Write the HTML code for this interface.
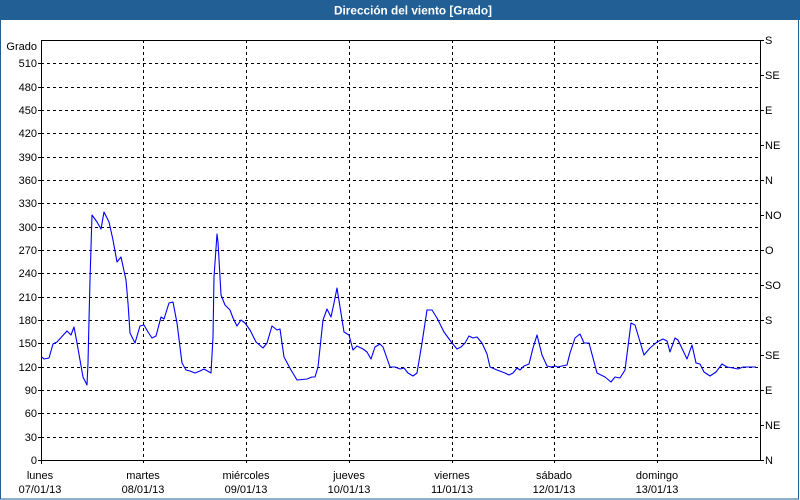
<!DOCTYPE html>
<html><head><meta charset="utf-8"><style>
html,body{margin:0;padding:0;background:#fff;}
svg{display:block;}
text{font-family:"Liberation Sans",Tahoma,sans-serif;font-size:11px;fill:#000;}
</style></head><body>
<svg width="800" height="500" viewBox="0 0 800 500" xmlns="http://www.w3.org/2000/svg">
<rect x="0" y="0" width="800" height="500" fill="#fff"/>
<rect x="0.5" y="0.5" width="798" height="498.5" fill="none" stroke="#215f95" stroke-width="1"/>
<rect x="0" y="0" width="800" height="20" fill="#215f95"/>
<text x="413" y="14.5" text-anchor="middle" style="font-weight:bold;font-size:12px;fill:#fff" textLength="158" lengthAdjust="spacingAndGlyphs">Dirección del viento [Grado]</text>

<g stroke="#000" stroke-width="1" stroke-dasharray="3,3" fill="none">
<path d="M41 437.5H760M41 413.5H760M41 390.5H760M41 367.5H760M41 343.5H760M41 320.5H760M41 297.5H760M41 273.5H760M41 250.5H760M41 227.5H760M41 203.5H760M41 180.5H760M41 157.5H760M41 133.5H760M41 110.5H760M41 87.5H760M41 63.5H760"/>
<path d="M143.5 40V463M246.5 40V463M349.5 40V463M452.5 40V463M554.5 40V463M657.5 40V463"/>
</g>
<g stroke="#000" stroke-width="1" fill="none">
<rect x="41.5" y="40.5" width="719" height="420"/>
<path d="M38 437.5H41M38 413.5H41M38 390.5H41M38 367.5H41M38 343.5H41M38 320.5H41M38 297.5H41M38 273.5H41M38 250.5H41M38 227.5H41M38 203.5H41M38 180.5H41M38 157.5H41M38 133.5H41M38 110.5H41M38 87.5H41M38 63.5H41M38 460.5H41"/>
<path d="M760 40.5H764M760 75.5H764M760 110.5H764M760 145.5H764M760 180.5H764M760 215.5H764M760 250.5H764M760 285.5H764M760 320.5H764M760 355.5H764M760 390.5H764M760 425.5H764M760 460.5H764"/>
<path d="M41.5 460V464"/>
</g>

<g text-anchor="end">
<text x="37" y="50">Grado</text>
<text x="37" y="67">510</text>
<text x="37" y="91">480</text>
<text x="37" y="114">450</text>
<text x="37" y="137">420</text>
<text x="37" y="161">390</text>
<text x="37" y="184">360</text>
<text x="37" y="207">330</text>
<text x="37" y="231">300</text>
<text x="37" y="254">270</text>
<text x="37" y="277">240</text>
<text x="37" y="301">210</text>
<text x="37" y="324">180</text>
<text x="37" y="347">150</text>
<text x="37" y="371">120</text>
<text x="37" y="394">90</text>
<text x="37" y="417">60</text>
<text x="37" y="441">30</text>
<text x="37" y="464">0</text>
</g>

<g>
<text x="765" y="44">S</text>
<text x="765" y="79">SE</text>
<text x="765" y="114">E</text>
<text x="765" y="149">NE</text>
<text x="765" y="184">N</text>
<text x="765" y="219">NO</text>
<text x="765" y="254">O</text>
<text x="765" y="289">SO</text>
<text x="765" y="324">S</text>
<text x="765" y="359">SE</text>
<text x="765" y="394">E</text>
<text x="765" y="429">NE</text>
<text x="765" y="464">N</text>
</g>

<g text-anchor="middle">
<text x="40" y="479">lunes</text><text x="40" y="493">07/01/13</text>
<text x="143" y="479">martes</text><text x="143" y="493">08/01/13</text>
<text x="246" y="479">miércoles</text><text x="246" y="493">09/01/13</text>
<text x="349" y="479">jueves</text><text x="349" y="493">10/01/13</text>
<text x="452" y="479">viernes</text><text x="452" y="493">11/01/13</text>
<text x="554" y="479">sábado</text><text x="554" y="493">12/01/13</text>
<text x="657" y="479">domingo</text><text x="657" y="493">13/01/13</text>
</g>

<polyline fill="none" stroke="#0000ff" stroke-width="1.1" stroke-linejoin="round" points="
42,357 44,359 49,358 53,344 57,342 67,331 71,335 74,327 77,343 83,377 87,385 88,363 89,320 90,280 92,215 97,222 101,229 104,212 109,222 113,240 117,262 121,257 126,280 128,303 130,333 135,343 140,326 144,325 148,332 152,338 156,336 161,317 164,319 169,303 173,302 177,323 182,363 186,370 190,371 195,373 200,371 204,369 211,373 213,337 214,277 217,234 218,242 220,277 221,295 225,305 230,310 233,318 237,326 241,320 245,323 250,330 256,342 263,348 267,343 272,326 277,330 280,329 284,357 291,370 297,380 307,379 312,377 315,377 318,367 323,320 327,309 331,317 334,303 337,288 340,307 344,332 349,335 353,350 357,346 363,349 367,352 371,359 375,347 380,344 383,347 390,367 395,367 400,369 404,368 408,373 413,376 417,373 422,343 427,310 432,310 437,318 444,332 452,343 457,349 461,347 465,343 469,336 473,338 477,337 482,343 487,354 490,367 497,370 505,373 509,375 513,373 517,368 520,370 524,366 529,364 533,348 537,335 542,355 547,366 551,367 555,366 558,367 562,366 567,365 570,353 575,338 580,334 584,343 589,343 597,373 605,377 611,382 615,377 620,378 625,370 631,323 635,325 644,355 650,348 657,342 663,339 667,341 670,352 675,338 678,340 687,359 692,345 696,363 700,364 704,372 710,376 716,372 722,364 727,367 733,368 738,369 743,367 748,367 753,367 756,367"/>
</svg>
</body></html>
